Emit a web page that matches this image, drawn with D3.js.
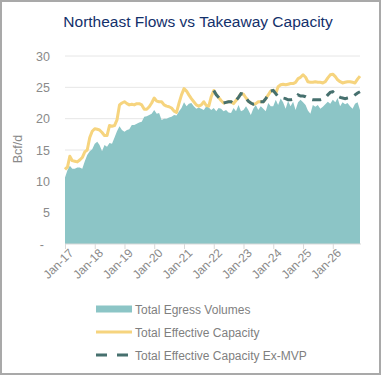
<!DOCTYPE html>
<html>
<head>
<meta charset="utf-8">
<script src="https://cdn.jsdelivr.net/npm/d3@7"></script>
<style>
  body { margin: 0; background: #fff; }
  svg { display: block; font-family: "Liberation Sans", Arial, sans-serif; }
</style>
</head>
<body>
<div id="chart"></div>
<script>
// Data bulanan Jan-17 .. Dec-26 (Bcf/d)
const startMonth = new Date(2017, 0, 1);

const egressVolumes = [
  10.6, 11.8, 12.5, 12.0, 12.0, 12.2, 12.2, 12.0, 13.2, 14.2, 14.8, 15.1,
  16.0, 16.3, 15.8, 14.8, 15.8, 15.5, 16.1, 16.0, 17.0, 18.0, 18.8, 18.2,
  17.9, 18.2, 18.3, 19.0, 19.0, 19.2, 19.4, 19.5, 20.3, 20.4, 20.6, 20.8,
  21.4, 20.8, 20.9, 19.8, 20.0, 20.0, 20.2, 20.3, 20.6, 20.5, 21.2, 21.7,
  22.6, 22.0, 22.4, 22.5, 22.0, 21.6, 21.8, 21.6, 21.4, 22.0, 21.8, 21.4,
  21.7, 21.2, 21.7, 21.6, 21.2, 21.4, 21.0, 20.9, 21.7, 21.2, 22.2, 21.2,
  21.4, 22.0, 21.4, 20.6, 21.6, 22.2, 21.4, 22.0, 21.6, 21.2, 22.5, 22.0,
  22.0, 23.0, 22.2, 23.2, 22.6, 21.6, 22.8, 22.0, 22.7, 21.4, 22.6, 23.0,
  22.6, 22.2, 21.3, 20.8, 22.2, 21.9, 22.2, 21.6, 21.9, 22.3, 22.7, 22.4,
  23.0, 22.6, 23.3, 22.0, 22.6, 22.3, 22.5, 22.0, 21.6, 22.4, 22.6, 21.4
];

const effectiveCapacity = [
  11.9, 12.3, 14.0, 13.3, 13.2, 13.1, 13.4, 13.8, 14.7, 15.0, 17.0, 18.0,
  18.4, 18.3, 18.2, 17.8, 17.3, 17.3, 18.9, 18.8, 18.9, 19.8, 22.2, 22.5,
  22.7, 22.4, 22.2, 22.3, 22.2, 22.4, 22.4, 22.2, 21.5, 21.5, 21.9, 22.5,
  23.3, 22.8, 22.7, 22.7, 22.2, 22.0, 21.9, 21.7, 21.2, 21.0, 22.5, 23.8,
  24.8, 24.4, 23.8, 23.2, 22.7, 22.2, 22.0, 22.2, 22.7, 22.1, 22.0, 23.5,
  24.5, 23.8, 23.4, 22.9, 22.5, 22.6, 22.7, 22.7, 22.4, 22.9, 23.4, 24.0,
  23.9, 23.3, 22.8, 22.5, 22.3, 22.4, 22.7, 22.7, 22.7, 23.2, 23.8, 24.4,
  24.5, 24.0, 25.1, 25.4, 25.5, 25.4, 25.5, 25.6, 25.6, 25.8, 26.4, 26.6,
  27.0, 26.6, 25.9, 25.8, 25.8, 25.9, 25.8, 25.8, 25.7, 25.9, 26.5, 27.0,
  27.1, 26.7, 26.2, 25.9, 25.7, 25.8, 25.9, 25.9, 25.8, 25.7, 26.3, 26.8
];

// Ex-MVP mulai Jan-22 (null sebelum itu)
const capacityExMVP = [
  null, null, null, null, null, null, null, null, null, null, null, null,
  null, null, null, null, null, null, null, null, null, null, null, null,
  null, null, null, null, null, null, null, null, null, null, null, null,
  null, null, null, null, null, null, null, null, null, null, null, null,
  null, null, null, null, null, null, null, null, null, null, null, null,
  24.5, 23.8, 23.4, 22.9, 22.5, 22.6, 22.7, 22.7, 22.4, 22.9, 23.4, 24.0,
  23.9, 23.3, 22.8, 22.5, 22.3, 22.4, 22.7, 22.7, 22.7, 23.2, 23.8, 24.4,
  24.5, 24.0, 23.5, 23.4, 23.3, 23.2, 23.0, 23.0, 23.1, 23.3, 23.8, 23.6,
  23.6, 23.5, 23.3, 23.1, 23.0, 23.0, 23.0, 23.0, 23.1, 23.3, 23.8, 24.2,
  24.3, 23.9, 23.6, 23.4, 23.3, 23.2, 23.3, 23.4, 23.5, 23.8, 24.1, 24.3
];

const yTicks = [0, 5, 10, 15, 20, 25, 30];
const legendLabels = ["Total Egress Volumes", "Total Effective Capacity", "Total Effective Capacity Ex-MVP"];

// Warna
const teal = "#8cc5c6";
const yellow = "#f6d47e";
const darkTeal = "#46706e";
const textGray = "#8a8a8a";

const data = egressVolumes.map((v, i) => ({
  date: d3.timeMonth.offset(startMonth, i),
  egress: v,
  cap: effectiveCapacity[i],
  exMvp: capacityExMVP[i]
}));

const width = 384, height = 376;
const plot = { left: 65, right: 360, top: 56, bottom: 244 };

const svg = d3.select("#chart")
  .append("svg")
  .attr("width", width)
  .attr("height", height);

// Bingkai luar
svg.append("rect")
  .attr("x", 1).attr("y", 1)
  .attr("width", 379).attr("height", 373)
  .attr("fill", "#fff")
  .attr("stroke", "#a9a9a9")
  .attr("stroke-width", 2);

// Judul
svg.append("text")
  .attr("x", 198)
  .attr("y", 27)
  .attr("text-anchor", "middle")
  .style("font-size", "15.5px")
  .style("fill", "#13306b")
  .text("Northeast Flows vs Takeaway Capacity");

// Skala
const x = d3.scaleTime()
  .domain([data[0].date, data[data.length - 1].date])
  .range([plot.left, plot.right]);

const y = d3.scaleLinear()
  .domain([0, 30])
  .range([plot.bottom, plot.top]);

// Gridlines
svg.append("g")
  .selectAll("line")
  .data(yTicks.filter(d => d > 0))
  .join("line")
  .attr("x1", plot.left)
  .attr("x2", plot.right)
  .attr("y1", d => y(d))
  .attr("y2", d => y(d))
  .attr("stroke", "#e6e6e6")
  .attr("stroke-width", 1);

// Area volume
svg.append("path")
  .datum(data)
  .attr("fill", teal)
  .attr("d", d3.area()
    .x(d => x(d.date))
    .y0(y(0))
    .y1(d => y(d.egress)));

// Garis kapasitas
svg.append("path")
  .datum(data)
  .attr("fill", "none")
  .attr("stroke", yellow)
  .attr("stroke-width", 3)
  .attr("stroke-linejoin", "round")
  .attr("d", d3.line()
    .x(d => x(d.date))
    .y(d => y(d.cap)));

// Garis kapasitas ex-MVP (putus-putus)
svg.append("path")
  .datum(data)
  .attr("fill", "none")
  .attr("stroke", darkTeal)
  .attr("stroke-width", 3)
  .attr("stroke-dasharray", "9,7")
  .attr("d", d3.line()
    .defined(d => d.exMvp != null)
    .x(d => x(d.date))
    .y(d => y(d.exMvp)));

// Sumbu y
const yAxis = svg.append("g")
  .attr("transform", "translate(" + plot.left + ",0)")
  .call(d3.axisLeft(y).tickValues(yTicks).tickSize(0).tickPadding(15)
    .tickFormat(d => d === 0 ? "-" : d));
yAxis.select(".domain").remove();
yAxis.selectAll("text")
  .style("font-size", "12.5px")
  .style("font-family", "Liberation Sans, Arial, sans-serif")
  .style("fill", textGray)
  .attr("dx", d => d === 0 ? "-6" : "0");

// Label sumbu y
svg.append("text")
  .attr("transform", "translate(22,149) rotate(-90)")
  .attr("text-anchor", "middle")
  .style("font-size", "12.5px")
  .style("fill", textGray)
  .text("Bcf/d");

// Sumbu x
const xAxis = svg.append("g")
  .attr("transform", "translate(0," + plot.bottom + ")")
  .call(d3.axisBottom(x)
    .ticks(d3.timeYear.every(1))
    .tickSizeOuter(0)
    .tickSize(5)
    .tickFormat(d3.timeFormat("%b-%y")));
xAxis.select(".domain")
  .attr("d", "M" + plot.left + ",0H" + (plot.right + 1))
  .attr("stroke", "#d9d9d9");
xAxis.selectAll(".tick line").attr("stroke", "#d9d9d9");
xAxis.selectAll("text")
  .style("font-size", "12px")
  .style("font-family", "Liberation Sans, Arial, sans-serif")
  .style("fill", textGray)
  .attr("text-anchor", "end")
  .attr("dy", "0")
  .attr("transform", "translate(3,4) rotate(-45)");

// Legenda
const legend = svg.append("g");
const legendY = [309, 332, 355];

legend.append("rect")
  .attr("x", 96).attr("y", legendY[0] - 3.5)
  .attr("width", 36).attr("height", 7)
  .attr("fill", teal);

legend.append("line")
  .attr("x1", 96).attr("x2", 132)
  .attr("y1", legendY[1]).attr("y2", legendY[1])
  .attr("stroke", yellow)
  .attr("stroke-width", 3);

legend.append("line")
  .attr("x1", 96).attr("x2", 129)
  .attr("y1", legendY[2]).attr("y2", legendY[2])
  .attr("stroke", darkTeal)
  .attr("stroke-width", 3)
  .attr("stroke-dasharray", "11,10");

legend.selectAll("text")
  .data(legendLabels)
  .join("text")
  .attr("x", 135)
  .attr("y", (d, i) => legendY[i] + 4.5)
  .style("font-size", "12px")
  .style("fill", "#7f7f7f")
  .text(d => d);
</script>
</body>
</html>
